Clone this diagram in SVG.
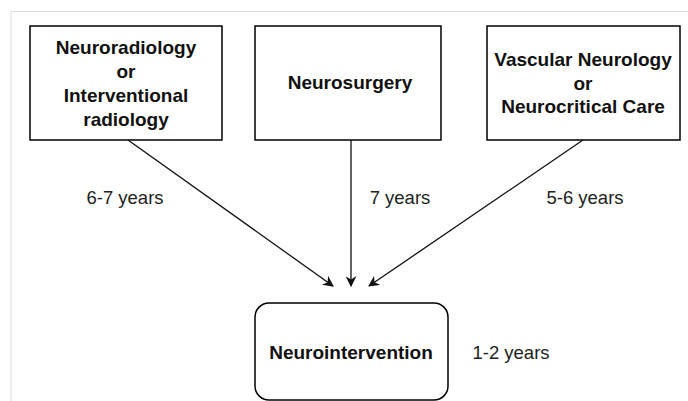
<svg xmlns="http://www.w3.org/2000/svg" width="688" height="401" viewBox="0 0 688 401">
<defs>
<style>
.box{fill:#fff;stroke:#000;stroke-width:1.5}
.t{font-family:"Liberation Sans",Arial,sans-serif;font-weight:bold;font-size:19px;fill:#111;text-anchor:middle}
.l{font-family:"Liberation Sans",Arial,sans-serif;font-size:18.5px;fill:#222;text-anchor:middle}
.c{stroke:#111;stroke-width:1.3;fill:none;marker-end:url(#ah)}
</style>
<marker id="ah" viewBox="0 0 10 10" refX="9" refY="5" markerWidth="11" markerHeight="11" markerUnits="userSpaceOnUse" orient="auto">
<path d="M0,0 L10,5 L0,10 L3,5 Z" fill="#111"/>
</marker>
</defs>
<rect x="0" y="0" width="688" height="401" fill="#fff"/>
<path d="M11,401 V11.5 H688" fill="none" stroke="#ddd" stroke-width="1"/>
<g id="node-neuroradiology">
<rect class="box" x="30" y="26" width="192" height="114"/>
<text class="t" x="126" y="54">Neuroradiology</text>
<text class="t" x="126" y="78">or</text>
<text class="t" x="126" y="102">Interventional</text>
<text class="t" x="126" y="126">radiology</text>
</g>
<g id="node-neurosurgery">
<rect class="box" x="255" y="26" width="186" height="114"/>
<text class="t" x="350" y="89">Neurosurgery</text>
</g>
<g id="node-vascular">
<rect class="box" x="487" y="26" width="193" height="114"/>
<text class="t" x="583" y="66">Vascular Neurology</text>
<text class="t" x="583" y="90">or</text>
<text class="t" x="583" y="113">Neurocritical Care</text>
</g>
<g id="node-neurointervention">
<rect class="box" x="255" y="303" width="193" height="97" rx="14" ry="14"/>
<text class="t" x="351" y="359">Neurointervention</text>
</g>
<g id="connectors">
<line class="c" x1="128" y1="140" x2="333" y2="286"/>
<line class="c" x1="351" y1="140" x2="351" y2="286"/>
<line class="c" x1="583" y1="140" x2="369" y2="286"/>
</g>
<g id="labels">
<text class="l" x="125" y="204">6-7 years</text>
<text class="l" x="400" y="204">7 years</text>
<text class="l" x="585" y="204">5-6 years</text>
<text class="l" x="511" y="359">1-2 years</text>
</g>
</svg>
